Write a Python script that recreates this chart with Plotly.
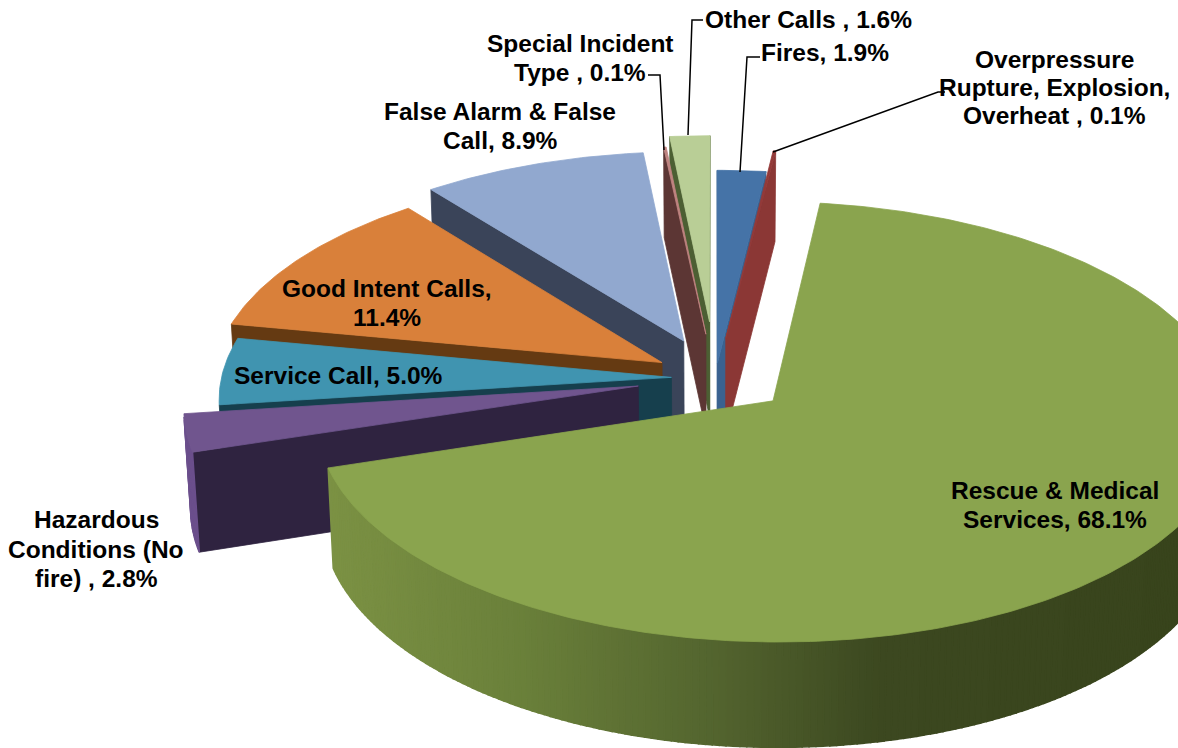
import numpy as np
import plotly.graph_objects as go

categories = ["Fires", "Overpressure Rupture, Explosion, Overheat", "Rescue & Medical Services",
              "Hazardous Conditions (No fire)", "Service Call", "Good Intent Calls",
              "False Alarm & False Call", "Special Incident Type", "Other Calls"]
values = [1.9, 0.1, 68.1, 2.8, 5.0, 11.4, 8.9, 0.1, 1.6]
pulls = [0.07, 0.19, 0.165, 0.175, 0.098, 0.14, 0.19, 0.21, 0.27]
top_colors = ["#4573A7", "#943A38", "#8AA44E", "#70558E", "#4094B0", "#D9803A", "#91A8CF", "#C08481", "#B9CE96"]
wall_colors = ["#3A6290", "#8B3735", "#4A5A28", "#2F2340", "#163F4D", "#653A12", "#3A4459", "#5C3634", "#4C5F33"]
rim_colors = ["#3A6290", "#8B3735", None, "#6B4F8C", "#2F7C95", "#7A4416", "#6C82A8", "#5C3634", "#4C5F33"]
draw_order = [0, 1, 8, 7, 6, 5, 4, 3, 2]
label_lines = [
    (["Fires, 1.9%"], 825, [52]),
    (["Overpressure", "Rupture, Explosion,", "Overheat , 0.1%"], 1054, [59, 87, 115]),
    (["Rescue & Medical", "Services, 68.1%"], 1055, [490, 519]),
    (["Hazardous", "Conditions (No", "fire) , 2.8%"], 96, [519, 549, 578]),
    (["Service Call, 5.0%"], 338, [375]),
    (["Good Intent Calls,", "11.4%"], 387, [288, 317]),
    (["False Alarm & False", "Call, 8.9%"], 500, [111, 140]),
    (["Special Incident", "Type , 0.1%"], 580, [43, 72]),
    (["Other Calls , 1.6%"], 808, [19]),
]
leaders = [
    ([740, 747, 760], [172, 57, 57]),
    ([688, 692, 703], [135, 20, 20]),
    ([664, 660, 648], [150, 75, 75]),
    ([773, 938, 945], [152, 92, 92]),
]

CX, CY = 715.5, 378.0
R = 450.0
SIN_E = 0.475
COS_E = np.sqrt(1 - SIN_E ** 2)
D = 9.3
H = 0.25
START = 0.0
cam = np.array([0.0, -D * COS_E])


def proj(X, Y, Z):
    v = Y * SIN_E + Z * COS_E
    w = Y * COS_E - Z * SIN_E
    s = D / (D + w)
    return CX + R * X * s, CY - R * v * s


def poly(fig, pts, color, lw=0.8):
    xs = [p[0] for p in pts] + [pts[0][0]]
    ys = [p[1] for p in pts] + [pts[0][1]]
    fig.add_trace(go.Scatter(x=xs, y=ys, mode="lines", fill="toself", fillcolor=color,
                             line=dict(color=color, width=lw), hoverinfo="skip", showlegend=False))


def lerp_color(x):
    stops = [(320, (124, 146, 68)), (520, (106, 128, 58)), (720, (82, 99, 46)),
             (880, (60, 72, 32)), (1180, (56, 68, 28))]
    for (a, ca), (b, cb) in zip(stops, stops[1:]):
        if x <= b:
            t = max(0, (x - a) / (b - a))
            c = [int(round(ca[i] + (cb[i] - ca[i]) * t)) for i in range(3)]
            return "rgb(%d,%d,%d)" % tuple(c)
    return "rgb(56,68,28)"


edges = np.concatenate([[0], np.cumsum(values)]) / np.sum(values) * 360.0 + START

fig = go.Figure()
for i in draw_order:
    a0, a1 = np.radians(edges[i]), np.radians(edges[i + 1])
    mid = (a0 + a1) / 2
    ox, oy = pulls[i] * np.sin(mid), pulls[i] * np.cos(mid)
    n = max(2, int((edges[i + 1] - edges[i]) / 0.8) + 1)
    th = np.linspace(a0, a1, n)
    rx, ry = ox + np.sin(th), oy + np.cos(th)

    # cut faces
    apex = np.array([ox, oy])
    for ang, sign in ((a0, -1), (a1, 1)):
        normal = sign * np.array([np.cos(ang), -np.sin(ang)])
        if np.dot(cam - apex, normal) > 0:
            ex, ey = ox + np.sin(ang), oy + np.cos(ang)
            poly(fig, [proj(ox, oy, 0), proj(ex, ey, 0), proj(ex, ey, -H), proj(ox, oy, -H)], wall_colors[i])

    # outer rim wall
    for k in range(n - 1):
        tm = (th[k] + th[k + 1]) / 2
        nrm = np.array([np.sin(tm), np.cos(tm)])
        pm = np.array([ox + nrm[0], oy + nrm[1]])
        if np.dot(cam - pm, nrm) > 0:
            p = [proj(rx[k], ry[k], 0), proj(rx[k + 1], ry[k + 1], 0),
                 proj(rx[k + 1], ry[k + 1], -H), proj(rx[k], ry[k], -H)]
            col = rim_colors[i] or lerp_color((p[0][0] + p[1][0]) / 2)
            poly(fig, p, col, 1.6)

    # top face
    pts = [proj(ox, oy, 0)] + [proj(a, b, 0) for a, b in zip(rx, ry)]
    poly(fig, pts, top_colors[i])

for xs, ys in leaders:
    fig.add_trace(go.Scatter(x=xs, y=ys, mode="lines", line=dict(color="black", width=1.5),
                             hoverinfo="skip", showlegend=False))

annotations = []
for lines, x, ys in label_lines:
    for t, y in zip(lines, ys):
        annotations.append(dict(x=x, y=y, xref="x", yref="y", text="<b>%s</b>" % t, showarrow=False,
                                xanchor="center", yanchor="middle",
                                font=dict(family="Liberation Sans, Arial, sans-serif", size=24.5, color="black")))

fig.update_layout(
    width=1178, height=748, margin=dict(l=0, r=0, t=0, b=0),
    paper_bgcolor="white", plot_bgcolor="white", showlegend=False,
    xaxis=dict(range=[0, 1178], visible=False, fixedrange=True),
    yaxis=dict(range=[748, 0], visible=False, fixedrange=True),
    annotations=annotations,
)
fig.write_html("out.html", config=dict(displayModeBar=False),
               post_script="document.body.style.margin='0';")
